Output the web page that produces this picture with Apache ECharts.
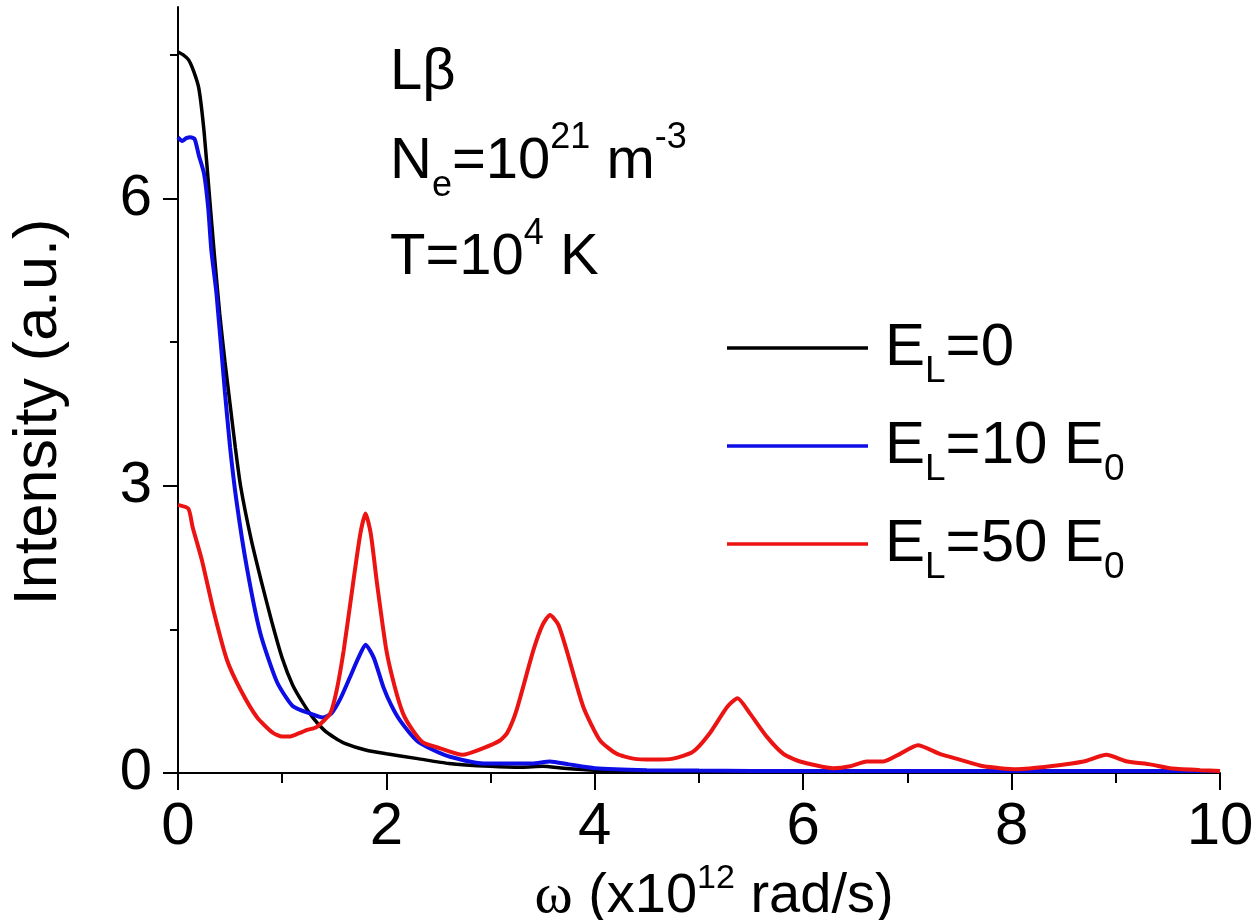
<!DOCTYPE html>
<html>
<head>
<meta charset="utf-8">
<script src="https://cdn.jsdelivr.net/npm/echarts@6/dist/echarts.min.js"></script>
<style>
  html, body { margin: 0; padding: 0; background: #ffffff; }
  #chart { width: 1258px; height: 920px; }
</style>
</head>
<body>
<div id="chart"></div>
<script>
// ---- data ----
const seriesNames = ['E_L=0', 'E_L=10 E_0', 'E_L=50 E_0'];

const omegaBlack = [0, 0.05, 0.1, 0.15, 0.2, 0.25, 0.3, 0.35, 0.4, 0.45, 0.5, 0.55, 0.6, 0.7, 0.8, 0.9, 1.0, 1.1, 1.2, 1.3, 1.4, 1.5, 1.6, 1.8, 2.0, 2.3, 2.6, 3.0, 3.3, 3.5, 3.7, 4.0, 4.5, 5, 6, 7, 8, 9, 10];
const intensityBlack = [7.53, 7.5, 7.45, 7.33, 7.15, 6.7, 6.05, 5.4, 4.8, 4.3, 3.85, 3.4, 3.0, 2.45, 2.0, 1.58, 1.2, 0.92, 0.73, 0.57, 0.45, 0.37, 0.31, 0.24, 0.2, 0.15, 0.1, 0.07, 0.06, 0.07, 0.05, 0.03, 0.02, 0.02, 0.015, 0.01, 0.01, 0.01, 0.01];

const omegaBlue = [0, 0.04, 0.08, 0.12, 0.16, 0.2, 0.25, 0.29, 0.32, 0.37, 0.45, 0.5, 0.56, 0.66, 0.79, 0.95, 1.1, 1.27, 1.39, 1.47, 1.56, 1.65, 1.73, 1.8, 1.88, 1.97, 2.05, 2.13, 2.29, 2.45, 2.61, 2.93, 3.25, 3.4, 3.57, 3.75, 4.0, 4.5, 5, 6, 7, 8, 9, 10];
const intensityBlue = [6.64, 6.6, 6.63, 6.64, 6.62, 6.45, 6.26, 5.9, 5.46, 5.0, 3.98, 3.4, 2.85, 2.15, 1.46, 0.95, 0.7, 0.62, 0.58, 0.62, 0.78, 1.0, 1.2, 1.34, 1.2, 0.9, 0.7, 0.55, 0.34, 0.24, 0.17, 0.1, 0.1, 0.1, 0.12, 0.09, 0.05, 0.03, 0.025, 0.02, 0.02, 0.02, 0.02, 0.02];

const omegaRed = [0, 0.1, 0.14, 0.23, 0.34, 0.47, 0.6, 0.76, 0.91, 1.0, 1.07, 1.15, 1.24, 1.33, 1.46, 1.52, 1.59, 1.68, 1.75, 1.8, 1.85, 1.91, 2.0, 2.08, 2.16, 2.25, 2.35, 2.51, 2.73, 2.93, 3.09, 3.16, 3.25, 3.41, 3.5, 3.57, 3.65, 3.73, 3.89, 4.05, 4.21, 4.37, 4.56, 4.75, 4.94, 5.1, 5.27, 5.37, 5.49, 5.65, 5.81, 5.97, 6.29, 6.45, 6.61, 6.77, 6.93, 7.1, 7.31, 7.5, 7.73, 8.05, 8.37, 8.69, 8.91, 9.11, 9.33, 9.52, 9.81, 10];
const intensityRed = [2.8, 2.76, 2.57, 2.22, 1.7, 1.18, 0.87, 0.58, 0.42, 0.38, 0.38, 0.41, 0.45, 0.48, 0.62, 0.85, 1.28, 1.98, 2.5, 2.71, 2.5, 1.98, 1.28, 0.9, 0.62, 0.45, 0.32, 0.26, 0.19, 0.26, 0.34, 0.42, 0.66, 1.28, 1.55, 1.65, 1.55, 1.28, 0.69, 0.34, 0.2, 0.15, 0.14, 0.15, 0.22, 0.41, 0.69, 0.78, 0.62, 0.38, 0.2, 0.12, 0.05, 0.07, 0.12, 0.12, 0.2, 0.29, 0.2, 0.14, 0.07, 0.04, 0.07, 0.12, 0.19, 0.12, 0.09, 0.05, 0.03, 0.02];

const yMajorTicks = [0, 3, 6];
const yMinorTicks = [1.5, 4.5, 7.5];

// ---- presentation ----
const FONT = "'Liberation Sans', Arial, Helvetica, sans-serif";
const colors = ['#000000', '#0d0de6', '#ec1313'];

function pairs(xs, ys) { return xs.map((x, i) => [x, ys[i]]); }

const richText = {
  m: { fontFamily: FONT, fontSize: 58, lineHeight: 84, color: '#000' },
  s: { fontFamily: FONT, fontSize: 36, lineHeight: 14, verticalAlign: 'bottom', color: '#000' },
  p: { fontFamily: FONT, fontSize: 36, lineHeight: 52, verticalAlign: 'top', color: '#000' }
};
const legendRichStyle = {
  m: { fontFamily: FONT, fontSize: 60, lineHeight: 84, color: '#000' },
  s: { fontFamily: FONT, fontSize: 37, lineHeight: 14, verticalAlign: 'bottom', color: '#000' }
};

const legendRich = {
  'E_L=0': '{m|E}{s|L}{m|=0}',
  'E_L=10 E_0': '{m|E}{s|L}{m|=10 E}{s|0}',
  'E_L=50 E_0': '{m|E}{s|L}{m|=50 E}{s|0}'
};

const chart = echarts.init(document.getElementById('chart'), null, { renderer: 'canvas' });

chart.setOption({
  animation: false,
  backgroundColor: '#ffffff',
  grid: { left: 178, right: 38, top: 7, bottom: 147, containLabel: false, outerBoundsMode: 'none' },
  xAxis: {
    type: 'value', min: 0, max: 10, interval: 2,
    name: '{w|ω}{m| (x10}{p|12}{m| rad/s)}',
    nameLocation: 'middle', nameGap: 86,
    nameTextStyle: {
      padding: [0, 0, 0, 30],
      rich: {
        w: { fontFamily: "'Liberation Serif', 'Times New Roman', serif", fontSize: 58, lineHeight: 70, color: '#000' },
        m: { fontFamily: FONT, fontSize: 56, lineHeight: 70, color: '#000' },
        p: { fontFamily: FONT, fontSize: 34, lineHeight: 40, verticalAlign: 'top', color: '#000' }
      }
    },
    axisLine: { show: true, onZero: false, lineStyle: { color: '#000', width: 2 } },
    axisTick: { show: true, inside: false, length: 17, lineStyle: { color: '#000', width: 2 } },
    minorTick: { show: true, splitNumber: 2, length: 10, lineStyle: { color: '#000', width: 2 } },
    axisLabel: { fontFamily: FONT, fontSize: 60, color: '#000', margin: 24 },
    splitLine: { show: false },
    minorSplitLine: { show: false }
  },
  yAxis: [
    {
      type: 'value', min: 0, max: 8, interval: 1.5, position: 'left',
      name: 'Intensity (a.u.)', nameLocation: 'middle', nameGap: 108, nameRotate: 90,
      nameTextStyle: { fontFamily: FONT, fontSize: 61, color: '#000', padding: [0, 44, 0, 0] },
      axisLine: { show: true, onZero: false, lineStyle: { color: '#000', width: 2 } },
      axisTick: { show: true, inside: false, length: 15, customValues: yMajorTicks, lineStyle: { color: '#000', width: 2 } },
      axisLabel: { customValues: yMajorTicks, fontFamily: FONT, fontSize: 58, color: '#000', margin: 26 },
      splitLine: { show: false }
    },
    {
      type: 'value', min: 0, max: 8, interval: 1.5, position: 'left', offset: 0,
      axisLine: { show: false },
      axisTick: { show: true, inside: false, length: 8, customValues: yMinorTicks, lineStyle: { color: '#000', width: 2 } },
      axisLabel: { show: false },
      splitLine: { show: false }
    }
  ],
  legend: {
    data: seriesNames,
    orient: 'vertical',
    left: 727, top: 318,
    padding: 0,
    icon: 'rect',
    itemWidth: 141, itemHeight: 3.5, itemGap: 26,
    formatter: name => legendRich[name],
    textStyle: { padding: [0, 0, 0, 12], rich: legendRichStyle },
    selectedMode: false
  },
  graphic: [
    { type: 'text', x: 390, y: 73, style: { text: '{m|Lβ}', rich: richText, verticalAlign: 'middle', align: 'left' } },
    { type: 'text', x: 390, y: 162, style: { text: '{m|N}{s|e}{m|=10}{p|21}{m| m}{p|-3}', rich: richText, verticalAlign: 'middle', align: 'left' } },
    { type: 'text', x: 390, y: 258, style: { text: '{m|T=10}{p|4}{m| K}', rich: richText, verticalAlign: 'middle', align: 'left' } }
  ],
  series: [
    { name: seriesNames[0], type: 'line', data: pairs(omegaBlack, intensityBlack), showSymbol: false, symbol: 'none', smooth: 0.2, color: colors[0], lineStyle: { color: colors[0], width: 3.5 } },
    { name: seriesNames[1], type: 'line', data: pairs(omegaBlue, intensityBlue), showSymbol: false, symbol: 'none', smooth: 0.2, color: colors[1], lineStyle: { color: colors[1], width: 4 } },
    { name: seriesNames[2], type: 'line', data: pairs(omegaRed, intensityRed), showSymbol: false, symbol: 'none', smooth: 0.2, color: colors[2], lineStyle: { color: colors[2], width: 4 } }
  ]
});
</script>
</body>
</html>
